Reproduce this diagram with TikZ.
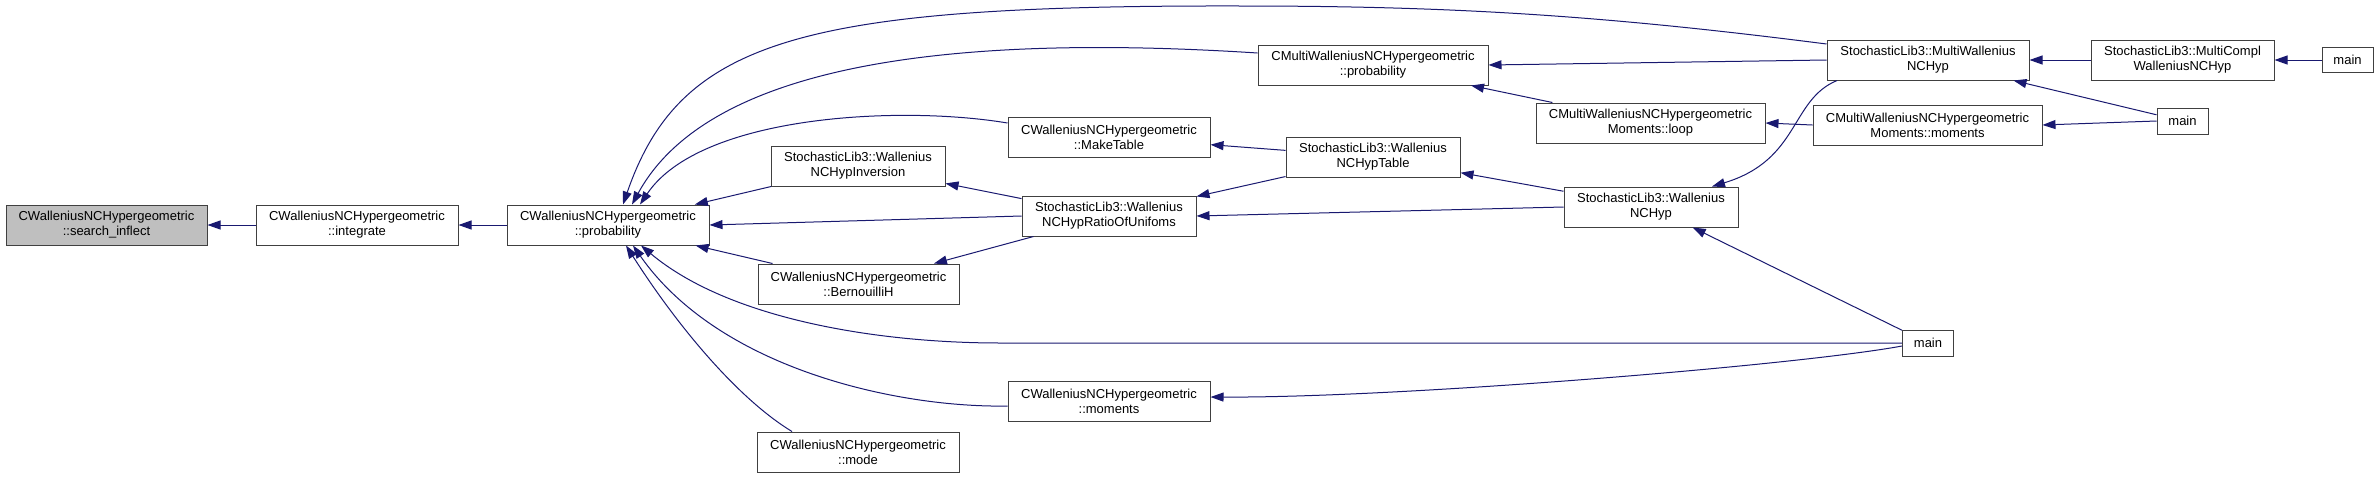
\documentclass[tikz,border=0pt]{standalone}
\usepackage{fontspec}
\setmainfont{Liberation Sans}
\usetikzlibrary{arrows.meta}
\definecolor{edgec}{RGB}{25,25,112}
\definecolor{boxc}{RGB}{64,64,64}
\definecolor{grayfill}{RGB}{191,191,191}
\begin{document}
\begin{tikzpicture}[x=1pt,y=-1pt,
  box/.style={draw=boxc, line width=1pt, fill=white, align=center, inner sep=0pt,
    font=\fontsize{13}{15}\selectfont, minimum height=40pt},
  mainbox/.style={box, minimum width=51pt, minimum height=26pt},
  edge/.style={draw=edgec, line width=1pt, -{Triangle[length=13pt,width=9pt]}}]
\fill[white] (0,0) rectangle (2379,477);
\useasboundingbox (0,0) rectangle (2379,477);

\node[box, fill=grayfill, minimum width=201pt] (si) at (106.5,225) {CWalleniusNCHypergeometric\\::search\_inflect};
\node[box, minimum width=202pt] (int) at (357,225) {CWalleniusNCHypergeometric\\::integrate};
\node[box, minimum width=202pt] (prob) at (608,225) {CWalleniusNCHypergeometric\\::probability};
\node[box, minimum width=202pt] (mt) at (1109,137) {CWalleniusNCHypergeometric\\::MakeTable};
\node[box, minimum width=174pt] (inv) at (858,166) {StochasticLib3::Wallenius\\NCHypInversion};
\node[box, minimum width=174pt] (ratio) at (1109,216) {StochasticLib3::Wallenius\\NCHypRatioOfUnifoms};
\node[box, minimum width=201pt] (bern) at (858.5,284) {CWalleniusNCHypergeometric\\::BernouilliH};
\node[box, minimum width=202pt] (mom) at (1109,401) {CWalleniusNCHypergeometric\\::moments};
\node[box, minimum width=202pt] (mode) at (858,452) {CWalleniusNCHypergeometric\\::mode};
\node[box, minimum width=230pt] (cmp) at (1373,65) {CMultiWalleniusNCHypergeometric\\::probability};
\node[box, minimum width=229pt] (loop) at (1650.5,123) {CMultiWalleniusNCHypergeometric\\Moments::loop};
\node[box, minimum width=174pt] (tab) at (1373,157) {StochasticLib3::Wallenius\\NCHypTable};
\node[box, minimum width=174pt] (hyp) at (1651,207) {StochasticLib3::Wallenius\\NCHyp};
\node[box, minimum width=202pt] (mw) at (1928,60) {StochasticLib3::MultiWallenius\\NCHyp};
\node[box, minimum width=229pt] (cmm) at (1927.5,125) {CMultiWalleniusNCHypergeometric\\Moments::moments};
\node[box, minimum width=183pt] (mc) at (2182.5,60) {StochasticLib3::MultiCompl\\WalleniusNCHyp};
\node[mainbox] (mainb) at (1928,343) {main};
\node[mainbox] (mainr) at (2182.5,121) {main};
\node[mainbox, minimum height=25pt] (maint) at (2347.5,60) {main};

% left chain
\draw[edge] (int) -- (si);
\draw[edge] (prob) -- (int);

% into probability
\draw[edge] ([yshift=16pt]mw.west) .. controls (1600,15) and (1450,6) .. (1240,6)
  .. controls (800,5) and (680,40) .. ([xshift=15pt]prob.north);
\draw[edge] ([yshift=12pt]cmp.west) .. controls (900,30) and (700,80) .. ([xshift=24pt]prob.north);
\draw[edge] ([yshift=14pt]mt.west) .. controls (900,105) and (700,115) .. ([xshift=32pt]prob.north);
\draw[edge] (inv) -- (prob);
\draw[edge] (ratio.west) -- (prob.east);
\draw[edge] ([xshift=15pt]bern.north west) -- (prob);
\draw[edge] (mainb.west) -- (1000,343) .. controls (880,343) and (730,320) .. ([xshift=33pt]prob.south);
\draw[edge] ([yshift=-5pt]mom.west) .. controls (900,408) and (720,370) .. ([xshift=25pt]prob.south);
\draw[edge] ([xshift=-66pt]mode.north) .. controls (740,400) and (680,330) .. ([xshift=18pt]prob.south);

% middle
\draw[edge] (ratio) -- (inv);
\draw[edge] (ratio) -- (bern);
\draw[edge] (tab) -- (mt);
\draw[edge] (tab) -- (ratio);
\draw[edge] (hyp.west) -- (ratio.east);
\draw[edge] (hyp) -- (tab);
\draw[edge] (mainb) -- (hyp);
\draw[edge] ([yshift=-3pt]mainb.west) .. controls (1800,365) and (1400,398) .. ([yshift=4pt]mom.east);

% right
\draw[edge] ([xshift=-91pt]mw.south) .. controls (1790,100) and (1800,160) .. ([xshift=61pt]hyp.north);
\draw[edge] (mw.west) -- (cmp.east);
\draw[edge] (loop) -- (cmp);
\draw[edge] (cmm.west) -- (loop.east);
\draw[edge] (mainr.west) -- (cmm.east);
\draw[edge] (mainr) -- (mw);
\draw[edge] (mc.west) -- (mw.east);
\draw[edge] (maint.west) -- (mc.east);
\end{tikzpicture}
\end{document}
